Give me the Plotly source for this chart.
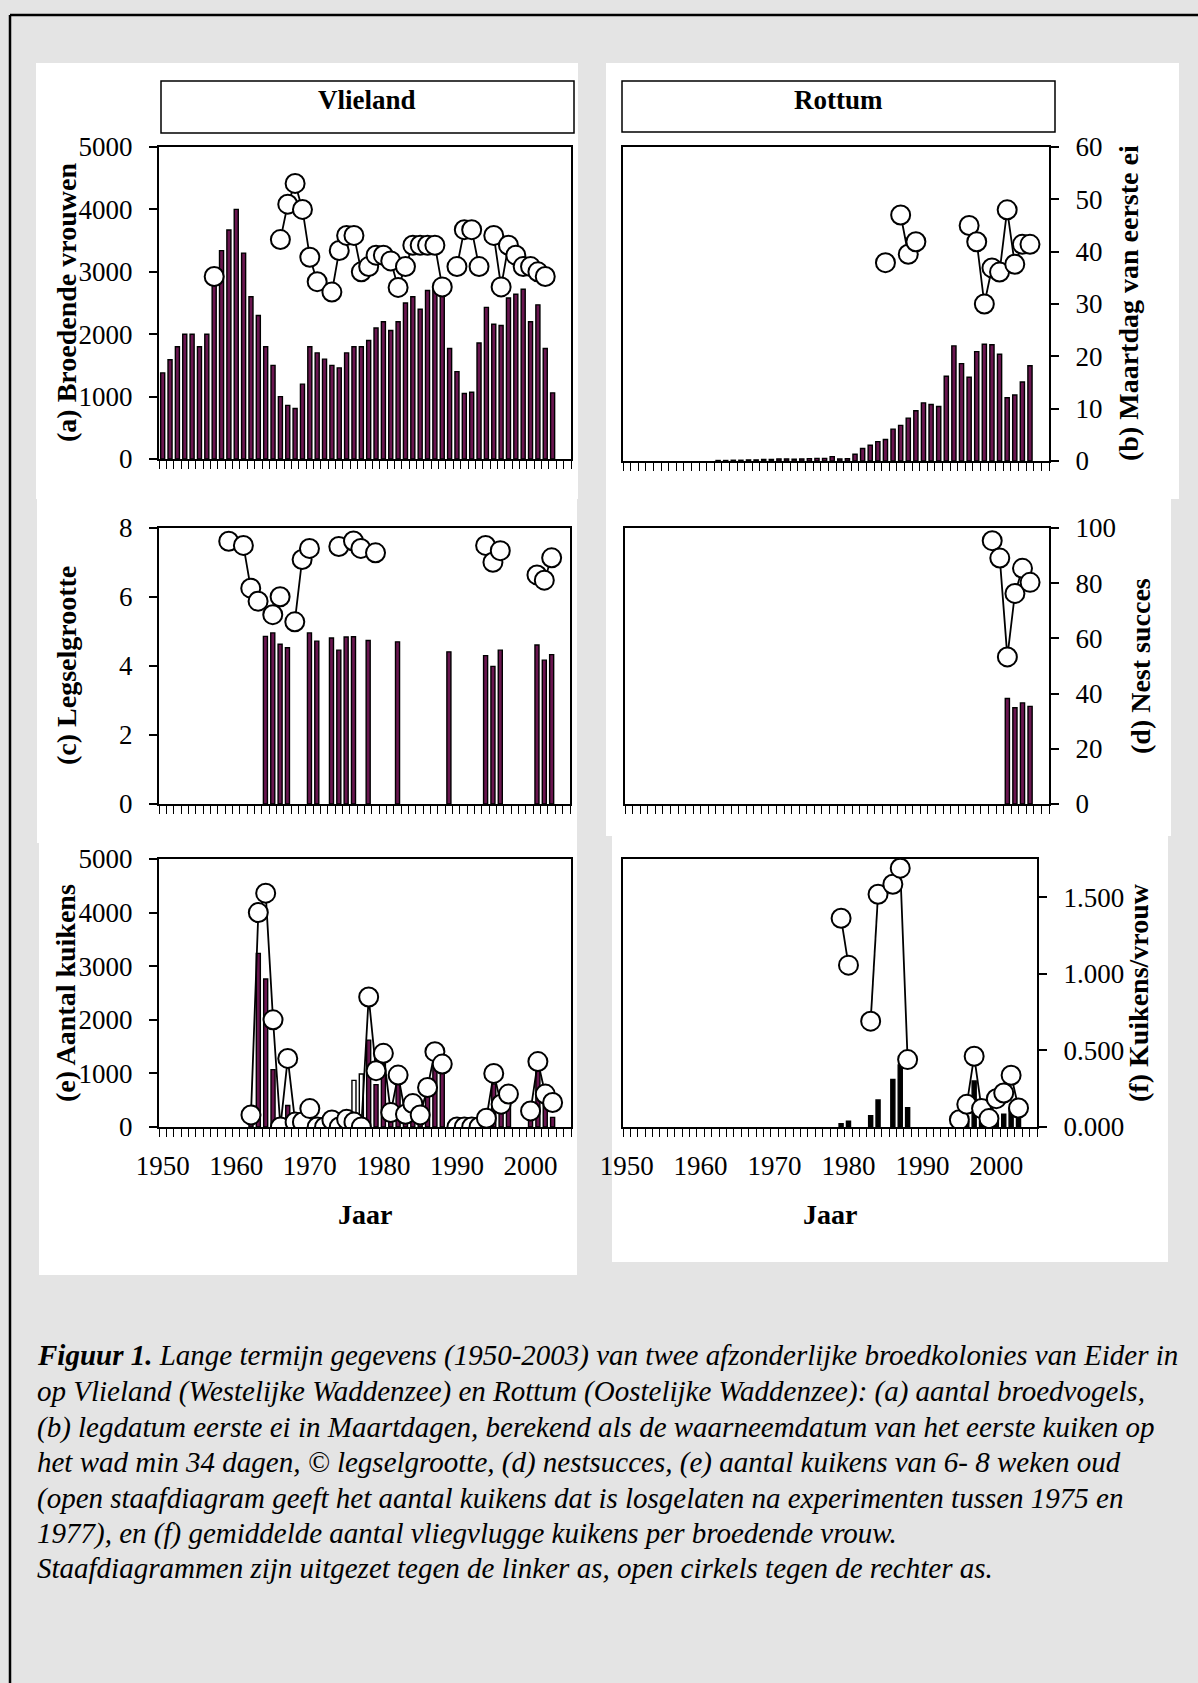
import plotly.graph_objects as go

W, H = 1198, 1683
N = None

# ---------------- data ----------------
years = list(range(1950, 2004))
decades = [1950, 1960, 1970, 1980, 1990, 2000]
decade_labels = ["1950", "1960", "1970", "1980", "1990", "2000"]

# (a) Vlieland: breeding females (bars, left axis) and first-egg day in March (circles, right axis)
vl_females = [
    1380, 1590, 1800, 2000, 2000, 1800, 2000, 2900, 3340, 3670,
    4000, 3300, 2600, 2300, 1800, 1500, 1000, 860, 810, 1200,
    1800, 1700, 1600, 1500, 1460, 1700, 1800, 1800, 1900, 2100,
    2200, 2060, 2200, 2500, 2600, 2400, 2700, 2750, 2650, 1770,
    1400, 1050, 1070, 1860, 2430, 2160, 2140, 2580, 2640, 2720,
    2200, 2470, 1770, 1060]
vl_firstegg = [
    N, N, N, N, N, N, N, 35.1, N, N,
    N, N, N, N, N, N, 42.2, 49.0, 53.0, 48.0,
    38.8, 34.1, N, 32.1, 40.1, 43.0, 43.0, 36.0, 37.0, 39.2,
    39.2, 38.1, 33.0, 37.0, 41.1, 41.1, 41.1, 41.1, 33.1, N,
    37.0, 44.1, 44.1, 37.0, N, 43.0, 33.1, 41.1, 39.2, 37.0,
    37.0, 36.0, 35.1, N]

# (b) Rottum: breeding females and first-egg day
ro_females = [
    N, N, N, N, N, N, N, N, N, N,
    N, N, 8, 8, 12, 12, 17, 17, 25, 25,
    33, 33, 29, 33, 38, 42, 42, 70, 33, 35,
    108, 200, 250, 308, 342, 508, 567, 683, 800, 925,
    900, 867, 1350, 1833, 1550, 1333, 1742, 1858, 1850, 1700,
    1008, 1050, 1258, 1517]
ro_firstegg = [
    N, N, N, N, N, N, N, N, N, N,
    N, N, N, N, N, N, N, N, N, N,
    N, N, N, N, N, N, N, N, N, N,
    N, N, N, N, 37.9, N, 47.0, 39.5, 41.9, N,
    N, N, N, N, N, 45.0, 41.9, 30.0, 36.9, 36.1,
    48.0, 37.6, 41.4, 41.4]

# (c) Vlieland: clutch size (bars) and nest success % (circles)
vl_clutch = [
    N, N, N, N, N, N, N, N, N, N,
    N, N, N, N, 4.86, 4.96, 4.63, 4.53, N, N,
    4.96, 4.72, N, 4.81, 4.46, 4.84, 4.85, N, 4.74, N,
    N, N, 4.70, N, N, N, N, N, N, 4.41,
    N, N, N, N, 4.30, 3.99, 4.46, N, N, N,
    N, 4.61, 4.17, 4.33]
vl_nest = [
    N, N, N, N, N, N, N, N, N, 95.2,
    N, 93.7, 78.2, 73.5, N, 68.6, 75.1, N, 66.0, 88.6,
    92.6, N, N, N, 93.3, N, 95.3, 92.6, N, 91.0,
    N, N, N, N, N, N, N, N, N, N,
    N, N, N, N, 93.7, 87.6, 91.8, N, N, N,
    N, 83.0, 81.1, 89.2]

# (d) Rottum: clutch size and nest success %
ro_clutch = [N] * 50 + [3.06, 2.79, 2.93, 2.83]
ro_nest = [N] * 48 + [95.4, 89.1, 53.3, 76.3, 85.4, 80.3]

# (e) Vlieland: chicks 6-8 weeks (bars), released chicks (open bars), chicks per female (circles)
vl_chicks = [
    N, N, N, N, N, N, N, N, N, N,
    N, N, 150, 3240, 2760, 1070, 60, 400, 50, 50,
    200, N, N, N, N, N, N, N, 1620, 790,
    1190, 150, 800, 150, 300, 150, 580, 1250, 1050, N,
    N, N, N, N, N, 800, 300, 480, N, N,
    180, 1050, 480, 180]
vl_released = [N] * 25 + [150, 870, 990] + [N] * 26
vl_chpf = [
    N, N, N, N, N, N, N, N, N, N,
    N, N, 0.079, 1.40, 1.527, 0.70, 0.0, 0.448, 0.033, 0.033,
    0.12, 0.0, 0.0, 0.046, 0.0, 0.05, 0.033, 0.0, 0.849, 0.368,
    0.481, 0.094, 0.339, 0.083, 0.153, 0.079, 0.258, 0.492, 0.411, N,
    0.0, 0.0, 0.0, 0.0, 0.057, 0.35, 0.149, 0.215, N, N,
    0.105, 0.427, 0.215, 0.16]

# (f) Rottum: chicks and chicks per female
ro_chicks = [
    N, N, N, N, N, N, N, N, N, N,
    N, N, N, N, N, N, N, N, N, N,
    N, N, N, N, N, N, N, N, N, 63,
    106, N, N, 211, 503, N, 886, 1157, 360, N,
    N, N, N, N, N, 40, 100, 857, 100, 50,
    120, 237, 343, 191]
ro_chpf = [
    N, N, N, N, N, N, N, N, N, N,
    N, N, N, N, N, N, N, N, N, N,
    N, N, N, N, N, N, N, N, N, 1.363,
    1.057, N, N, 0.691, 1.520, N, 1.585, 1.690, 0.440, N,
    N, N, N, N, N, 0.048, 0.148, 0.462, 0.12, 0.055,
    0.185, 0.222, 0.338, 0.124]

caption_lines = [
    "<b>Figuur 1.</b> Lange termijn gegevens (1950-2003) van twee afzonderlijke broedkolonies van Eider in",
    "op Vlieland (Westelijke Waddenzee) en Rottum (Oostelijke Waddenzee): (a) aantal broedvogels,",
    "(b) legdatum eerste ei in Maartdagen, berekend als de waarneemdatum van het eerste kuiken op",
    "het wad min 34 dagen, © legselgrootte, (d) nestsucces, (e) aantal kuikens van 6- 8 weken oud",
    "(open staafdiagram geeft het aantal kuikens dat is losgelaten na experimenten tussen 1975 en",
    "1977), en (f) gemiddelde aantal vliegvlugge kuikens per broedende vrouw.",
    "Staafdiagrammen zijn uitgezet tegen de linker as, open cirkels tegen de rechter as.",
]

# ---------------- styling / layout ----------------
FONT = "Liberation Serif"
BAR_FILL = "#6a1650"
TICKFONT = dict(family=FONT, size=27, color="black")
BG = "#e4e4e4"


def fx(px):
    return px / W


def fy(py):
    return 1 - py / H


def ref(prefix, n):
    return prefix + ("" if n == 1 else str(n))


def axkey(prefix, n):
    return prefix + "axis" + ("" if n == 1 else str(n))


# panel: box (x0, x1, y0, y1) px, left axis spec, right axis spec, x labels
panels = [
    dict(box=(159, 571, 147, 459),
         left=dict(range=[0, 5000], vals=[0, 1000, 2000, 3000, 4000, 5000], visible=True),
         right=dict(range=[0, 60], visible=False), xlabels=False),
    dict(box=(623, 1049, 147, 461),
         left=dict(range=[0, 5000], visible=False),
         right=dict(range=[0, 60], vals=[0, 10, 20, 30, 40, 50, 60], visible=True), xlabels=False),
    dict(box=(159, 570, 528, 804),
         left=dict(range=[0, 8], vals=[0, 2, 4, 6, 8], visible=True),
         right=dict(range=[0, 100], visible=False), xlabels=False),
    dict(box=(625, 1049, 528, 804),
         left=dict(range=[0, 8], visible=False),
         right=dict(range=[0, 100], vals=[0, 20, 40, 60, 80, 100], visible=True), xlabels=False),
    dict(box=(159, 571, 859, 1127),
         left=dict(range=[0, 5000], vals=[0, 1000, 2000, 3000, 4000, 5000], visible=True),
         right=dict(range=[0, 1.75], visible=False), xlabels=True),
    dict(box=(623, 1037, 859, 1127),
         left=dict(range=[0, 5000], visible=False),
         right=dict(range=[0, 1.75], vals=[0, 0.5, 1.0, 1.5],
                    text=["0.000", "0.500", "1.000", "1.500"], visible=True), xlabels=True),
]

layout = dict(
    template="none",
    width=W, height=H, margin=dict(l=0, r=0, t=0, b=0, pad=0, autoexpand=False),
    paper_bgcolor=BG, plot_bgcolor="white", showlegend=False,
    barmode="overlay", font=dict(family=FONT, color="black"),
)

minor_vals = [1949.5 + k for k in range(57)]

for p, spec in enumerate(panels, start=1):
    x0, x1, y0, y1 = spec["box"]
    lid, rid = 2 * p - 1, 2 * p
    layout[axkey("x", p)] = dict(
        domain=[fx(x0), fx(x1)], anchor=ref("y", lid), range=[1949.5, 2005.5],
        automargin=False,
        showline=True, linecolor="black", linewidth=2, mirror=True,
        tickmode="array", tickvals=decades, ticktext=decade_labels,
        showticklabels=spec["xlabels"], ticks="", tickfont=TICKFONT,
        ticklabelstandoff=14,
        showgrid=False, zeroline=False, fixedrange=True,
        minor=dict(tickmode="array", tickvals=minor_vals, ticks="outside",
                   ticklen=8, tickwidth=1.2, tickcolor="black", showgrid=False),
    )
    for side, aid, s in (("left", lid, spec["left"]), ("right", rid, spec["right"])):
        ax = dict(range=s["range"], anchor=ref("x", p), side=side, automargin=False,
                  showgrid=False, zeroline=False, fixedrange=True)
        if side == "left":
            ax["domain"] = [fy(y1), fy(y0)]
        else:
            ax["overlaying"] = ref("y", lid)
        if s["visible"]:
            ax.update(
                tickmode="array", tickvals=s["vals"],
                ticktext=s.get("text", [str(v) for v in s["vals"]]),
                ticks="outside", ticklen=8, tickwidth=1.5, tickcolor="black",
                showline=True, linecolor="black", linewidth=2, mirror=True,
                tickfont=TICKFONT, ticklabelstandoff=11,
            )
        else:
            ax["visible"] = False
        layout[axkey("y", aid)] = ax

fig = go.Figure(layout=layout)


def add_bars(values, p, fill):
    fig.add_trace(go.Bar(
        x=years, y=values, xaxis=ref("x", p), yaxis=ref("y", 2 * p - 1),
        width=0.55, marker=dict(color=fill, line=dict(color="black", width=1.4)),
        hoverinfo="x+y"))


def add_circles(values, p):
    fig.add_trace(go.Scatter(
        x=years, y=values, xaxis=ref("x", p), yaxis=ref("y", 2 * p),
        mode="lines+markers", connectgaps=False,
        line=dict(color="black", width=1.8),
        marker=dict(size=19, color="white", line=dict(color="black", width=2)),
        hoverinfo="x+y"))


add_bars(vl_females, 1, BAR_FILL)
add_circles(vl_firstegg, 1)
add_bars(ro_females, 2, BAR_FILL)
add_circles(ro_firstegg, 2)
add_bars(vl_clutch, 3, BAR_FILL)
add_circles(vl_nest, 3)
add_bars(ro_clutch, 4, BAR_FILL)
add_circles(ro_nest, 4)
add_bars(vl_chicks, 5, BAR_FILL)
add_bars(vl_released, 5, "white")
add_circles(vl_chpf, 5)
add_bars(ro_chicks, 6, "black")
add_circles(ro_chpf, 6)

# ---------------- decorations ----------------
shapes = []


def rect(x0, y0, x1, y1, fill="white", line=None, layer="below"):
    d = dict(type="rect", xref="paper", yref="paper",
             x0=fx(x0), x1=fx(x1), y0=fy(y1), y1=fy(y0),
             fillcolor=fill, layer=layer)
    if line:
        d["line"] = dict(color="black", width=line)
    else:
        d["line"] = dict(width=0)
    shapes.append(d)


# white panel backgrounds
rect(36, 63, 578, 499)
rect(37, 499, 577, 843)
rect(39, 843, 577, 1275)
rect(606, 63, 1179, 499)
rect(606, 499, 1171, 836)
rect(612, 836, 1168, 1262)
# title boxes
rect(161, 81, 574, 133, line=1.5, layer="above")
rect(622, 81, 1055, 132, line=1.5, layer="above")
# outer frame (top and left)
shapes.append(dict(type="line", xref="paper", yref="paper", x0=fx(10), x1=fx(W),
                   y0=fy(15), y1=fy(15), line=dict(color="black", width=2.5)))
shapes.append(dict(type="line", xref="paper", yref="paper", x0=fx(10), x1=fx(10),
                   y0=fy(15), y1=fy(H), line=dict(color="black", width=2.5)))

ann = []


def text(x, y, s, size=27, angle=0, xanchor="center", bold=False):
    ann.append(dict(xref="paper", yref="paper", x=fx(x), y=fy(y), text=("<b>%s</b>" % s) if bold else s,
                    showarrow=False, textangle=angle, xanchor=xanchor, yanchor="middle",
                    font=dict(family=FONT, size=size, color="black")))


text(367, 100, "Vlieland", bold=True)
text(838, 100, "Rottum", bold=True)
text(66, 303, "(a) Broedende vrouwen", size=28, angle=-90, bold=True)
text(66, 666, "(c) Legselgrootte", size=28, angle=-90, bold=True)
text(66, 993, "(e) Aantal kuikens", size=28, angle=-90, bold=True)
text(1128, 303, "(b) Maartdag van eerste ei", size=28, angle=-90, bold=True)
text(1140, 666, "(d) Nest succes", size=28, angle=-90, bold=True)
text(1139, 993, "(f) Kuikens/vrouw", size=28, angle=-90, bold=True)
text(365, 1214, "Jaar", size=28, bold=True)
text(830, 1214, "Jaar", size=28, bold=True)

cap_y = [1355, 1391, 1427, 1462, 1498, 1533, 1568]
for yy, line in zip(cap_y, caption_lines):
    text(35, yy, "<i>%s</i>" % line, size=29, xanchor="left")

fig.update_layout(shapes=shapes, annotations=ann)
fig.write_html("out.html")
